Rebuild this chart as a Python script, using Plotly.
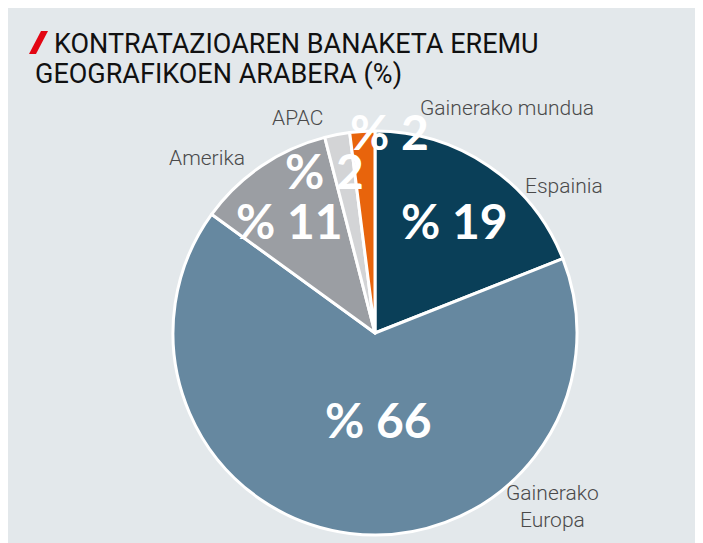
import math
import plotly.graph_objects as go

# ---- data ----
categories = ["Espainia", "Gainerako Europa", "Amerika", "APAC", "Gainerako mundua"]
values = [19, 66, 11, 2, 2]
display_labels = ["Espainia", "Gainerako<br>Europa", "Amerika", "APAC", "Gainerako mundua"]
title_lines = ["KONTRATAZIOAREN BANAKETA EREMU", "GEOGRAFIKOEN ARABERA (%)"]

# ---- style ----
colors = ["#0a3f58", "#6688a0", "#9b9ea3", "#d3d4d6", "#e8640c"]
W, H = 695, 535
OFF = 8  # page body margin
BG = "#e3e8eb"
CX, CY, R = 375, 333, 202  # pie centre / radius in screen px
# text placement relative to slice mid-angle: (radius factor, angle offset deg)
pct_place = [(0.685, 1.1), (0.431, -9.8), (0.70, -2.8), (0.844, -6.3), (1.0, 7.6)]
lab_place = [(1.185, 17.9), (1.229, -53.0), (1.201, -9.6), (1.131, -8.9), (1.291, 34.0)]


def px(x, y):
    return (x - OFF) / W, 1 - (y - OFF) / H


fig = go.Figure()
dx0, dy1 = px(CX - R, CY - R)
dx1, dy0 = px(CX + R, CY + R)
fig.add_trace(go.Pie(
    labels=categories, values=values, sort=False, direction="clockwise", rotation=0,
    marker=dict(colors=colors, line=dict(color="white", width=3)),
    textinfo="none", hoverinfo="label+percent", showlegend=False,
    domain=dict(x=[dx0, dx1], y=[dy0, dy1]),
))

annotations = []
total = sum(values)
cum = 0
for i, v in enumerate(values):
    mid = (cum + v / 2) / total * 360
    cum += v
    rf, off = pct_place[i]
    a = math.radians(mid + off)
    x, y = CX + rf * R * math.sin(a), CY - rf * R * math.cos(a)
    ax, ay = px(x, y)
    annotations.append(dict(x=ax, y=ay, xref="paper", yref="paper", showarrow=False,
                            text=f"<b>% {v}</b>", xanchor="center", yanchor="middle",
                            font=dict(family="Lato", size=48, color="white", weight=900)))
    rf, off = lab_place[i]
    a = math.radians(mid + off)
    x, y = CX + rf * R * math.sin(a), CY - rf * R * math.cos(a)
    ax, ay = px(x, y)
    annotations.append(dict(x=ax, y=ay, xref="paper", yref="paper", showarrow=False,
                            text=display_labels[i], xanchor="center", yanchor="middle",
                            align="center",
                            font=dict(family="Roboto", size=21, color="#4a4a4a", weight=300)))

# title
tx, ty = px(52, 44)
annotations.append(dict(x=tx, y=ty, xref="paper", yref="paper", showarrow=False,
                        text=title_lines[0], xanchor="left", yanchor="middle",
                        font=dict(family="Roboto", size=27, color="#111111")))
tx, ty = px(33, 74)
annotations.append(dict(x=tx, y=ty, xref="paper", yref="paper", showarrow=False,
                        text=title_lines[1], xanchor="left", yanchor="middle",
                        font=dict(family="Roboto", size=27, color="#111111")))

shapes = []
# red slash
p = [px(29, 54), px(36, 54), px(48, 31), px(41, 31)]
path = "M " + " L ".join(f"{a},{b}" for a, b in p) + " Z"
shapes.append(dict(type="path", xref="paper", yref="paper", path=path,
                   fillcolor="#e30613", line=dict(width=0)))

fig.update_layout(width=W, height=H, margin=dict(l=0, r=0, t=0, b=0),
                  paper_bgcolor=BG, plot_bgcolor=BG,
                  annotations=annotations, shapes=shapes)
fig.write_html("out.html", config={"displayModeBar": False})
